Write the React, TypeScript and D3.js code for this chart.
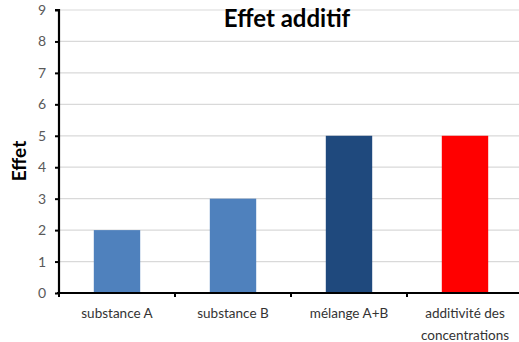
import React, { useEffect, useRef } from "react";
import * as d3 from "d3";

const categories = ["substance A", "substance B", "mélange A+B", "additivité des|concentrations"];
const values = [2, 3, 5, 5];
const barColors = ["#4F81BD", "#4F81BD", "#1F497D", "#FF0000"];
const yTicks = [0, 1, 2, 3, 4, 5, 6, 7, 8, 9];

const W = 519;
const H = 342;
const FONT = "Lato, 'Open Sans', sans-serif";

export default function App() {
  const ref = useRef<SVGSVGElement>(null);

  useEffect(() => {
    const svg = d3.select(ref.current);
    svg.selectAll("*").remove();

    const x = d3.scaleBand<string>().domain(categories).range([59, 523]).paddingInner(0.6).paddingOuter(0.3);
    const y = d3.scaleLinear().domain([0, 9]).range([293, 10]);

    // gridlines
    svg.append("g")
      .selectAll("line")
      .data(yTicks.filter((d) => d > 0))
      .join("line")
      .attr("x1", 59)
      .attr("x2", W)
      .attr("y1", (d) => y(d))
      .attr("y2", (d) => y(d))
      .attr("stroke", "#D9D9D9")
      .attr("stroke-width", 1.2);

    // bars
    svg.append("g")
      .selectAll("rect")
      .data(values)
      .join("rect")
      .attr("x", (_, i) => x(categories[i])!)
      .attr("y", (d) => y(d))
      .attr("width", x.bandwidth())
      .attr("height", (d) => y(0) - y(d))
      .attr("fill", (_, i) => barColors[i]);

    // y axis
    const yAxis = svg.append("g").attr("transform", "translate(59,0)")
      .call(d3.axisLeft(y).tickValues(yTicks).tickSize(4).tickPadding(9).tickFormat(d3.format("d")));
    yAxis.select(".domain").attr("stroke", "#000").attr("stroke-width", 2.2).attr("d", `M-4,${y(9)}H0V${y(0)}`);
    yAxis.selectAll(".tick line").attr("stroke", "#000").attr("stroke-width", 2);
    yAxis.selectAll(".tick text").attr("fill", "#595959").attr("font-size", 14).attr("font-family", FONT);

    // x axis with category separators
    const edges = d3.range(categories.length + 1).map((i) => 59 + i * ((523 - 59) / categories.length));
    svg.append("line")
      .attr("x1", 57).attr("x2", W)
      .attr("y1", y(0)).attr("y2", y(0))
      .attr("stroke", "#000").attr("stroke-width", 2.2);
    svg.append("g").selectAll("line")
      .data(edges)
      .join("line")
      .attr("x1", (d) => d).attr("x2", (d) => d)
      .attr("y1", y(0)).attr("y2", y(0) + 4)
      .attr("stroke", "#000").attr("stroke-width", 2);

    const labels = svg.append("g").selectAll("text")
      .data(categories)
      .join("text")
      .attr("x", (d) => x(d)! + x.bandwidth() / 2)
      .attr("y", 318)
      .attr("text-anchor", "middle")
      .attr("fill", "#333")
      .attr("font-size", 13.5)
      .attr("font-family", FONT);
    labels.each(function (d) {
      const parts = d.split("|");
      const t = d3.select(this);
      parts.forEach((p, i) => {
        t.append("tspan").attr("x", x(d)! + x.bandwidth() / 2).attr("dy", i === 0 ? 0 : 22).text(p);
      });
    });

    // title
    svg.append("text")
      .attr("x", 287).attr("y", 27)
      .attr("text-anchor", "middle")
      .attr("font-size", 24).attr("font-weight", "bold")
      .attr("font-family", FONT)
      .attr("fill", "#000")
      .text("Effet additif");

    // y axis title
    svg.append("text")
      .attr("transform", `translate(26,161) rotate(-90)`)
      .attr("text-anchor", "middle")
      .attr("font-size", 19).attr("font-weight", "bold")
      .attr("font-family", FONT)
      .attr("fill", "#000")
      .text("Effet");
  }, []);

  return (
    <svg ref={ref} width={W} height={H} style={{ position: "absolute", left: 0, top: 0, background: "#fff" }} />
  );
}
